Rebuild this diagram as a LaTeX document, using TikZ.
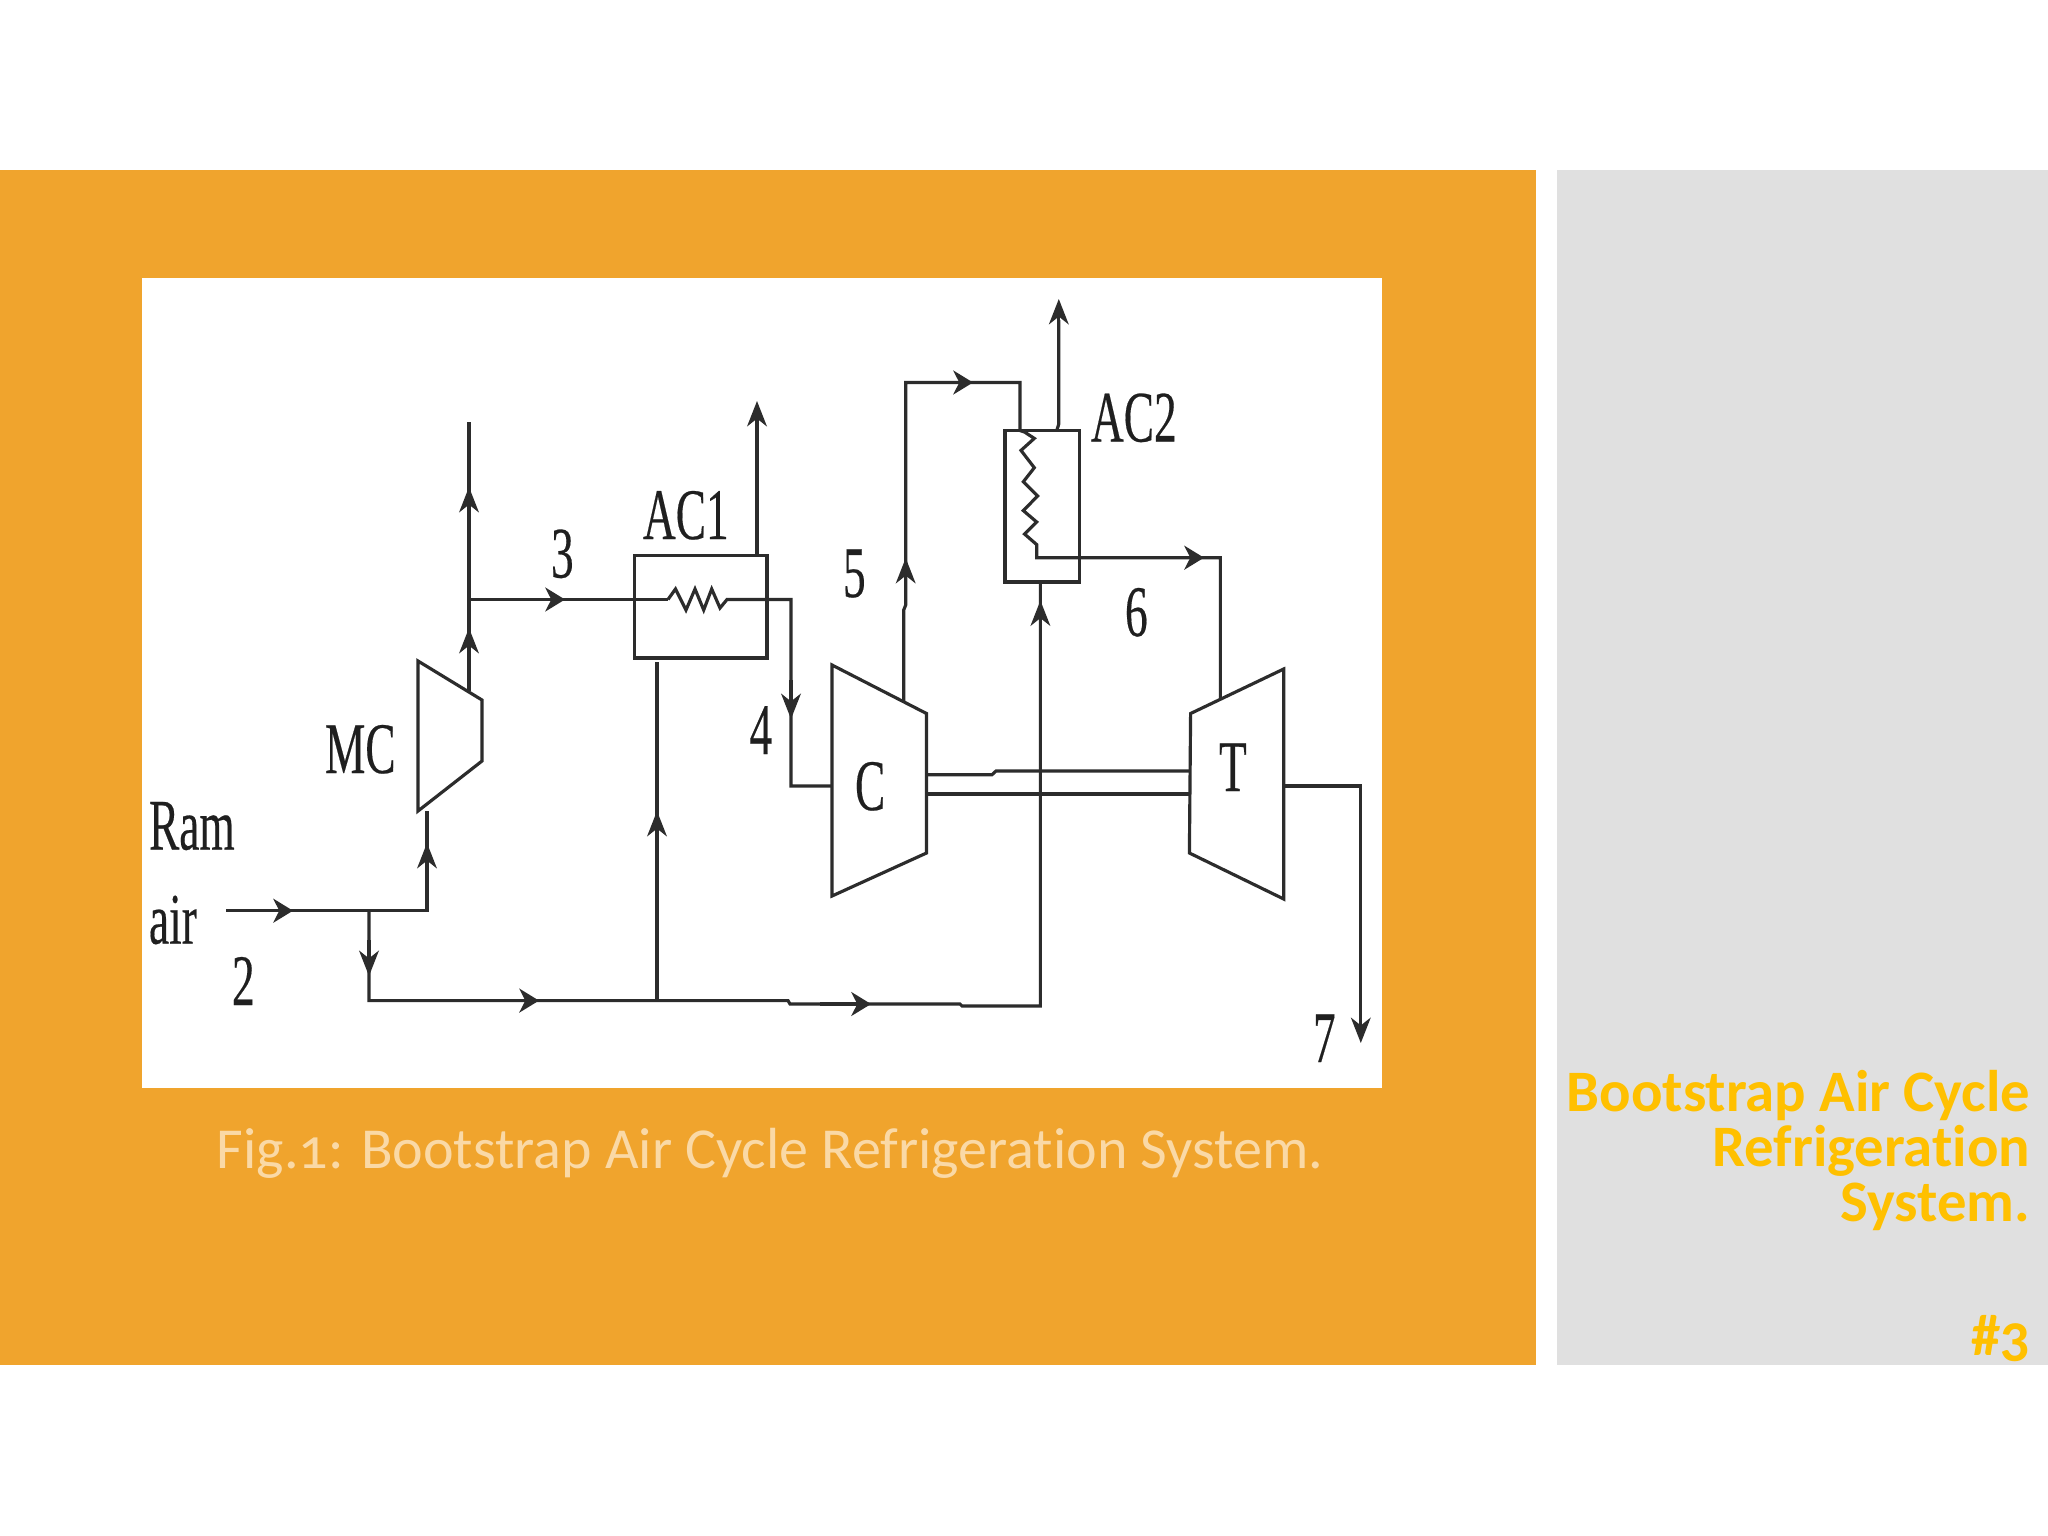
\documentclass[tikz,border=0pt]{standalone}
\usepackage{graphicx}
\usepackage{fontspec}
\usetikzlibrary{arrows.meta}
\newfontfamily\labfont[FakeBold=0.35]{Liberation Serif}
\newfontfamily\slidefont[Numbers=OldStyle,Ligatures=NoCommon]{Carlito}
\definecolor{slideorange}{HTML}{F0A42D}
\definecolor{slidegray}{HTML}{E0E0E0}
\definecolor{titlegold}{HTML}{FFC000}
\definecolor{captiontone}{HTML}{FAD9A6}
\definecolor{ink}{HTML}{2C2C2C}
\newcommand{\talltext}[1]{\scalebox{1}[1.6]{\labfont\fontsize{12.9pt}{15pt}\selectfont #1}}
\tikzset{
  x=0.01cm, y=-0.01cm,
  pipe/.style={draw=ink, line width=0.9pt, line join=miter},
  uptip/.style={pipe, -{Stealth[length=7.2pt,width=5.6pt,inset=2.2pt]}},
  downtip/.style={uptip},
  sidetip/.style={pipe, -{Stealth[length=5.6pt,width=6.8pt,inset=1.7pt]}},
  lab/.style={anchor=base west, inner sep=0pt, outer sep=0pt, text=ink!70!black},
  exchanger/.style={draw=ink, line width=0.9pt, inner sep=0pt, outer sep=0pt, fill=none},
  titletext/.style={anchor=base east, inner sep=0pt, text=titlegold, font=\slidefont\bfseries\fontsize{16.7pt}{16.7pt}\selectfont},
}
\begin{document}
\begin{tikzpicture}
\useasboundingbox (0,0) rectangle (2048,1536);
\fill[white] (0,0) rectangle (2048,1536);
\fill[slideorange] (0,170) rectangle (1536,1365);
\fill[slidegray] (1557,170) rectangle (2048,1365);
\fill[white] (142,278) rectangle (1382,1088);

% machines
\draw[pipe] (418,661) -- (482,700) -- (482,761) -- (418,811) -- cycle;
\draw[pipe] (832,665) -- (926.5,713.5) -- (926.5,853) -- (832,896) -- cycle;
\draw[pipe] (1190.6,713.5) -- (1283.7,669) -- (1283.7,899) -- (1189.4,853) -- cycle;
\node[exchanger, minimum width=1.325cm, minimum height=1.025cm] (ac1) at (700.75,606.75) {};
\node[exchanger, minimum width=0.746cm, minimum height=1.515cm] (ac2) at (1042.3,506.25) {};

% named points
\coordinate (mctop) at (469,691);
\coordinate (mcjoin) at (469,599.5);
\coordinate (mcvent) at (469,422);
\coordinate (ac1r) at (791,599.5);
\coordinate (cin) at (791,786);
\coordinate (cinend) at (832,786);
\coordinate (ramstart) at (226,910.7);
\coordinate (ramsplit) at (369,910.7);
\coordinate (mcinc) at (427,910.7);
\coordinate (mcin) at (427,811);
\coordinate (lowc) at (369,1000.6);
\coordinate (lowj) at (657,1000.6);
\coordinate (ac1in) at (657,662);
\coordinate (ac2in) at (1040.4,582);
\coordinate (lowe) at (1040.4,1006);

% pipes
\draw[pipe] (mctop) -- (mcvent);
\draw[pipe] (mcjoin) -- (668,599.5);
\draw[pipe] (668,599.5) -- (675.5,589) -- (686,610) -- (695,589) -- (703.7,610) -- (711.7,589) -- (720,608) -- (727,599.5) -- (ac1r) -- (cin) -- (cinend);
\draw[pipe] (ramstart) -- (mcinc) -- (mcin);
\draw[pipe] (ramsplit) -- (lowc) -- (lowj) -- (788,1000.6) -- (790,1004) -- (960,1004) -- (962,1006) -- (lowe) -- (ac2in);
\draw[pipe] (lowj) -- (ac1in);
\draw[pipe] (903.7,701) -- (903.7,610) -- (905.7,605) -- (905.7,382.5) -- (1020,382.5) -- (1020,430.5) -- (1024.5,432) -- (1034.3,438.4) -- (1021,450.4) -- (1034.3,467.7) -- (1023.3,481.8) -- (1037.6,496) -- (1023.3,510.6) -- (1036.7,522) -- (1024.5,534) -- (1036.7,544.6) -- (1036.7,557.7) -- (1220.4,557.7) -- (1220.4,699);
\draw[pipe] (1283.7,786) -- (1360.8,786) -- (1360.8,1030);
\draw[pipe] (926.5,774.7) -- (992,774.7) -- (996,771) -- (1189.4,771);
\draw[pipe] (926.5,794) -- (1189.4,794);
\draw[pipe] (1056.7,430.5) -- (1058.8,424) -- (1058.8,320);

% arrow heads
\draw[uptip] (469,520) -- (469,487);
\draw[uptip] (469,660) -- (469,628);
\draw[sidetip] (520,599.5) -- (565,599.5);
\draw[uptip] (757,555.5) -- (757,401);
\draw[downtip] (791,680) -- (791,719);
\draw[sidetip] (240,910.7) -- (293,910.7);
\draw[uptip] (427,880) -- (427,843);
\draw[downtip] (369,940) -- (369,976);
\draw[sidetip] (480,1000.6) -- (539,1000.6);
\draw[uptip] (657,850) -- (657,811);
\draw[sidetip] (820,1004) -- (871,1004);
\draw[uptip] (1040.4,640) -- (1040.4,600.5);
\draw[uptip] (905.7,590) -- (905.7,558);
\draw[sidetip] (930,382.5) -- (973,382.5);
\draw[uptip] (1058.8,340) -- (1058.8,299);
\draw[sidetip] (1150,557.7) -- (1204,557.7);
\draw[downtip] (1360.8,1000) -- (1360.8,1043);

% labels
\node[lab] (lram) at (149,849.5) {\talltext{Ram}};
\node[lab] (lair) at (149,943.6) {\talltext{air}};
\node[lab] (ltwo) at (232,1005) {\talltext{2}};
\node[lab] (lmc) at (325,773) {\talltext{MC}};
\node[lab] (lthree) at (551,577.5) {\talltext{3}};
\node[lab] (lacone) at (643,539) {\talltext{AC1}};
\node[lab] (lfour) at (749.5,754) {\talltext{4}};
\node[lab] (lfive) at (843,597) {\talltext{5}};
\node[lab] (lsix) at (1125,636) {\talltext{6}};
\node[lab] (lseven) at (1313,1062) {\talltext{7}};
\node[lab] (lactwo) at (1091,441.5) {\talltext{AC2}};
\node[lab] (lc) at (855,810) {\talltext{C}};
\node[lab] (lt) at (1219,791) {\talltext{T}};

% slide text
\node[anchor=base, inner sep=0pt, text=captiontone, font=\slidefont\fontsize{16.5pt}{16.5pt}\selectfont] (caption) at (770,1168) {Fig.1: Bootstrap Air Cycle Refrigeration System.};
\node[titletext] (t1) at (2031,1111.7) {Bootstrap Air Cycle};
\node[titletext] (t2) at (2031,1166.7) {Refrigeration};
\node[titletext] (t3) at (2031,1221.7) {System.};
\node[titletext] (t4) at (2031,1355) {\#3};
\end{tikzpicture}
\end{document}
